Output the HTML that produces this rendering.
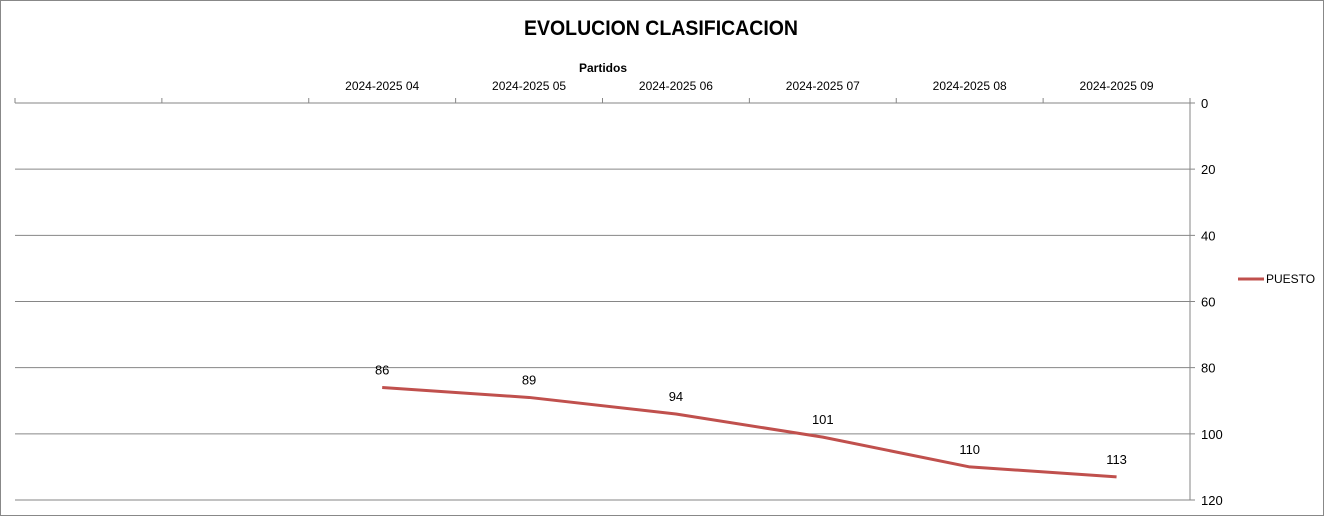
<!DOCTYPE html>
<html><head><meta charset="utf-8"><style>
body{margin:0;background:#fff;}
svg{display:block;font-family:"Liberation Sans",sans-serif;}
</style></head><body>
<svg id="chart" width="1324" height="516">
<rect x="0.5" y="0.5" width="1323" height="515" fill="#fff" stroke="#888"/>
<text x="524" y="35" font-size="21" font-weight="bold" textLength="274" lengthAdjust="spacingAndGlyphs">EVOLUCION CLASIFICACION</text>
<text x="603" y="72" text-anchor="middle" font-size="12" font-weight="bold">Partidos</text>
<g id="grid"></g><g id="axes"></g><g id="series"></g>
<line x1="1238" y1="279" x2="1264" y2="279" stroke="#c0504d" stroke-width="3"/>
<text x="1266" y="283" font-size="12">PUESTO</text>
</svg>
<script>
const categories=["","","2024-2025 04","2024-2025 05","2024-2025 06","2024-2025 07","2024-2025 08","2024-2025 09"];
const values=[null,null,86,89,94,101,110,113];
const yTicks=[0,20,40,60,80,100,120];
const NS="http://www.w3.org/2000/svg";
const L=15,R=1190,T=103,B=500,yMax=120;
const slot=(R-L)/categories.length;
const x=i=>L+slot*(i+0.5);
const y=v=>T+(B-T)*v/yMax;
function mk(tag,attrs,parent){const e=document.createElementNS(NS,tag);for(const k in attrs)e.setAttribute(k,attrs[k]);document.getElementById(parent).appendChild(e);return e;}
yTicks.forEach(t=>{
  const g=mk("line",{x1:L,x2:R+5,y1:y(t),y2:y(t),stroke:"#868686","stroke-width":1},"grid");
  
  
  const tx=mk("text",{x:R+11,y:y(t)+5,"font-size":13},"axes");
  tx.textContent=t;
  
  
});
const ax=mk("line",{x1:R,x2:R,y1:T,y2:B,stroke:"#868686"},"axes");


for(let i=0;i<=categories.length;i++){
  const tk=mk("line",{x1:L+slot*i,x2:L+slot*i,y1:T-5,y2:T,stroke:"#868686"},"axes");
  
  
}
categories.forEach((c,i)=>{
  const tx=mk("text",{x:x(i),y:90,"font-size":12,"text-anchor":"middle"},"axes");
  tx.textContent=c;
  
  
});
let d="";
values.forEach((v,i)=>{if(v==null)return;d+=(d?"L":"M")+x(i)+","+y(v);});
const p=mk("path",{d:d,fill:"none",stroke:"#c0504d","stroke-width":3,"stroke-linejoin":"round"},"series");


values.forEach((v,i)=>{
  if(v==null)return;
  const tx=mk("text",{x:x(i),y:y(v)-13,"font-size":13,"text-anchor":"middle"},"series");
  tx.textContent=v;
  
  
});
</script>
</body></html>
